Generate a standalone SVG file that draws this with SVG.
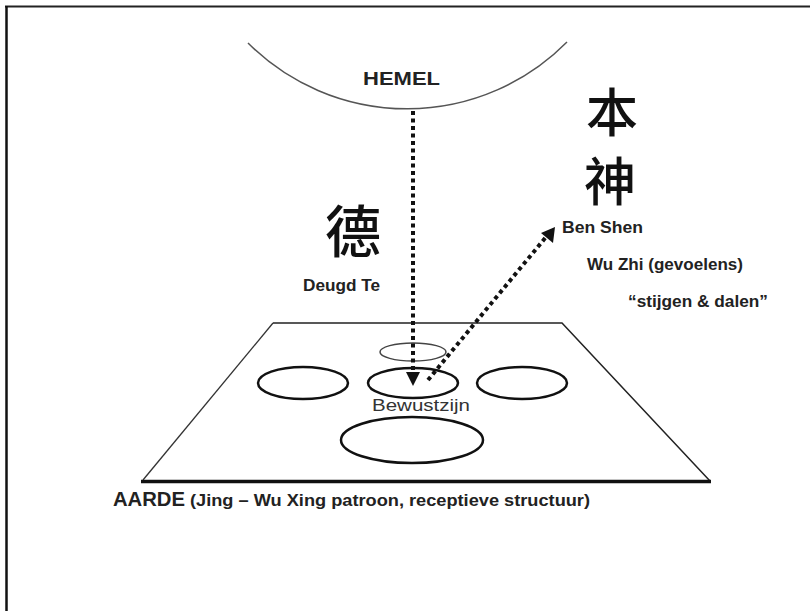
<svg xmlns="http://www.w3.org/2000/svg" width="810" height="611" viewBox="0 0 810 611">
<style>
.t{font-family:"Liberation Sans",Arial,sans-serif;font-weight:bold;fill:#222;}
.cjk{font-family:"Noto Sans CJK SC","Noto Sans CJK JP",sans-serif;font-weight:500;fill:#111;}
.el{fill:none;stroke:#111;stroke-width:2.5;}
.dot{fill:none;stroke:#111;stroke-width:4;stroke-dasharray:4 3.5;}
</style>
<rect width="810" height="611" fill="#fff"/>
<g id="frame">
<line x1="5" y1="6.5" x2="810" y2="6.5" stroke="#222" stroke-width="2"/>
<line x1="6.5" y1="6" x2="6.5" y2="611" stroke="#111" stroke-width="2.5"/>
</g>
<g id="hemel">
<path d="M248,43 A225,225 0 0 0 567,42" fill="none" stroke="#555" stroke-width="1.5"/>
<text class="t" x="363" y="85" font-size="18" textLength="77" lengthAdjust="spacingAndGlyphs">HEMEL</text>
</g>
<g id="aarde">
<path d="M273,323 L562,323 L710,481" fill="none" stroke="#222" stroke-width="1.5"/>
<line x1="273" y1="323" x2="143" y2="480" stroke="#333" stroke-width="1.3"/>
<line x1="141" y1="481.5" x2="711" y2="481.5" stroke="#111" stroke-width="3.5"/>
<ellipse cx="413" cy="352" rx="33" ry="9" fill="none" stroke="#444" stroke-width="1.5"/>
<ellipse class="el" cx="303" cy="383" rx="45" ry="16"/>
<ellipse class="el" cx="413" cy="383" rx="45" ry="15"/>
<ellipse class="el" cx="522" cy="383" rx="45" ry="16"/>
<ellipse class="el" cx="412" cy="440" rx="71" ry="23"/>
<text x="372" y="411" font-family="'Liberation Sans',Arial,sans-serif" font-size="17" fill="#333" textLength="98" lengthAdjust="spacingAndGlyphs">Bewustzijn</text>
<text class="t" x="113" y="506" font-size="20" textLength="72" lengthAdjust="spacingAndGlyphs">AARDE</text>
<text class="t" x="190" y="506" font-size="17" textLength="400" lengthAdjust="spacingAndGlyphs">(Jing – Wu Xing patroon, receptieve structuur)</text>
</g>
<g id="deugd">
<text class="cjk" x="325" y="252" font-size="56">德</text>
<text class="t" x="303" y="291" font-size="17" textLength="77" lengthAdjust="spacingAndGlyphs">Deugd Te</text>
</g>
<g id="benshen">
<text class="cjk" x="586" y="132" font-size="52">本</text>
<text class="cjk" x="584" y="201" font-size="52">神</text>
<text class="t" x="562" y="233" font-size="17" textLength="81" lengthAdjust="spacingAndGlyphs">Ben Shen</text>
<text class="t" x="587" y="270" font-size="17" textLength="156" lengthAdjust="spacingAndGlyphs">Wu Zhi (gevoelens)</text>
<text class="t" x="628" y="307" font-size="17" textLength="140" lengthAdjust="spacingAndGlyphs">“stijgen &amp; dalen”</text>
</g>
<g id="connectors">
<line class="dot" x1="413" y1="111" x2="413" y2="373"/>
<path d="M406,372 L420,372 L413,386 Z" fill="#111"/>
<line class="dot" x1="428" y1="380" x2="546" y2="237"/>
<path d="M555,227 L553,243 L541,233 Z" fill="#111"/>
</g>
</svg>
